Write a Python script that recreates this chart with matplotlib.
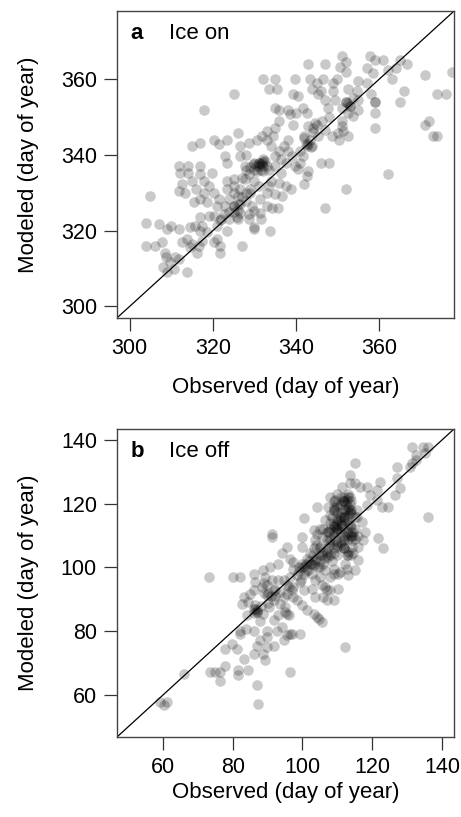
import numpy as np
import matplotlib
matplotlib.use("Agg")
import matplotlib.pyplot as plt

plt.rcParams['font.family'] = ['Liberation Sans', 'DejaVu Sans']

# ---- panel a: ice on (observed, modeled day of year) ----
on_obs = [351, 352, 352, 357.8, 359, 361, 362, 364, 366.8, 365, 371, 377.5, 357, 358.6, 363,
          355, 366, 365, 374, 376, 371, 372, 373, 374, 359, 359, 359, 362, 352, 347, 346, 348,
          325, 318, 332, 335, 333.4, 335.4, 339.8, 343, 347, 343.4, 345, 346.6, 349, 349, 349.8,
          343.8, 345.4, 339.4, 340.6, 349.4, 351, 347.8, 352.6, 353, 353.8, 355, 355, 353.8,
          352.6, 351, 351, 351.4, 350, 352.6, 350.4, 348.6, 347, 346.2, 344.6, 345.4, 343,
          343.4, 343.8, 342.6, 341.8, 341, 339.8, 340.6, 342.6, 343, 342, 339, 338, 337, 335.9,
          338, 339.4, 338.6, 340, 341.8, 342.6, 335, 336, 338, 336, 334.9, 333, 334.5, 331.8,
          333, 334, 330.6, 328.6, 326, 326.6, 323.4, 320.2, 321.4, 315, 317, 326.6, 328, 323,
          323.4, 329.8, 331, 331.8, 332, 333, 332, 330.6, 329, 328.6, 327.8, 334.9, 336.4,
          337.6, 335, 336.4, 334, 336, 337.6, 338.8, 336.6, 335, 333, 333.4, 331, 329.8, 327.8,
          325, 323.4, 323.4, 325, 325, 326.6, 328, 329, 326, 324, 323, 325, 326.6, 328, 329.4,
          331.4, 333, 334.2, 335.7, 331.4, 330, 328.6, 326.6, 325.8, 324, 322.6, 321, 321.4,
          320.2, 319, 317.8, 316, 315, 314, 312.2, 311.8, 314, 317, 319.8, 317, 318, 317, 318.6,
          315.4, 313.4, 311.8, 312.6, 305, 320.2, 319, 317, 317.4, 315.8, 314.6, 317, 318.6,
          321, 321.8, 323.4, 326, 328.8, 331.5, 330, 330, 333.8, 321, 321.8, 321.8, 320.2,
          317.4, 316.6, 316.2, 314.6, 315, 313.8, 312.6, 312, 310, 309, 307, 304, 304, 306,
          307.8, 308.6, 308.8, 309.8, 311, 308, 309, 313.8, 310.6, 311.8, 327, 350.6, 346,
          347, 357, 352.6, 354.6, 331.5, 332, 331.2, 342.5, 343.5, 326, 325,
          330.5, 332.5, 330, 344, 342, 341, 325, 326, 327, 324, 322, 329, 333.5, 352, 348,
          331, 332, 330, 331.5, 343, 344, 342, 345, 352, 353, 358, 359, 328, 327]
on_mod = [366, 364.6, 362, 366, 365, 365, 362.5, 363, 364, 365, 361, 362, 363, 361.7, 360,
          359.6, 357, 354, 356, 356, 348, 349, 345, 345, 354, 351, 347, 335, 331, 326, 338, 338,
          356, 352, 360, 360, 357.5, 357.5, 360, 364, 364, 360, 359, 360, 359, 357, 360,
          357.5, 356, 356, 355.6, 354.6, 352.4, 352.4, 353.7, 353, 355, 354.6, 352, 350.2,
          351, 349, 347.6, 346.3, 345.8, 345, 344, 345, 346.7, 348.9, 348.5, 345, 347.6,
          344, 342.3, 342.3, 339.7, 338, 337, 336.2, 334.5, 335.8, 332.3, 339.7, 341, 342.3, 341,
          344, 348, 350.7, 351, 352.4, 351, 352.4, 352, 352, 349, 347, 346.3, 345, 345,
          344, 342.3, 344, 343.2, 345.8, 342.3, 344, 344, 342.8, 342.3, 343.2, 339.7, 340, 339.7,
          338, 338, 337, 338, 339, 337, 335.8, 335.8, 336.7, 335, 337, 339.7, 338.8,
          338, 337, 335.3, 333, 332.7, 331.8, 331, 329.2, 329.7, 330, 331.8, 331.8, 333, 333.6,
          333.6, 333, 331, 331.8, 330, 331, 330, 331, 329.2, 328.3, 326.6, 326.6, 327, 327.9, 326.6,
          328.3, 326.6, 326, 326, 324.8, 325.3, 324.4, 324.8, 323.5, 323, 324.4, 326.6, 328.3,
          330, 331.8, 330, 331, 333.2, 335.3, 335.3, 337, 337, 337, 335.3, 335, 333, 328.3, 327.5,
          327.5, 330, 330.5, 332.3, 329.2, 324, 324, 323.5, 321.3, 321.3, 321, 320, 319.6,
          321.3, 322.7, 320, 323, 323, 323, 320.5, 321, 320, 317.8, 316, 314, 317,
          317.4, 316, 314, 315.7, 316.6, 317.8, 317, 320.5, 321.3, 320.5, 321.8, 322, 316, 316,
          317, 314, 313, 311.7, 313, 310.4, 309, 309, 310, 312.6, 316, 363.3, 357,
          354.6, 359, 357.5, 357, 337.5, 338.3, 337.8, 343, 342.2, 325.5, 326.5,
          337, 338.5, 336, 346, 344.5, 341, 325, 327, 329, 325, 323, 330, 336, 354, 350,
          338, 337, 337.5, 336, 343, 347, 345, 348, 354, 353, 356, 354, 336, 334]

# ---- panel b: ice off ----
off_obs = [131.3, 132.7, 134.7, 136.1, 135.2, 131.3, 130.8, 127, 132.7, 115.1, 136.1, 127, 128,
           126.5, 122.2, 121.3, 124.6, 122.8, 121.3, 119.4, 118.4, 121.8, 123, 117, 118, 117.5,
           116, 116, 115.1, 113.2, 112.2, 110.3, 108.9, 107, 106.5, 112.2, 113.7, 113.7, 115.1,
           116.5, 118.4, 111.3, 109.9, 111.8, 113.7, 112.8, 109.4, 107.4, 104.1, 108.9, 111.8,
           113.7, 115.6, 110.8, 113.2, 115.6, 107.9, 106.5, 108.9, 111.3, 113.7, 114.6, 112.8,
           109.9, 107.4, 105.1, 104.1, 105.5, 103.6, 107, 109.4, 111.8, 114.2, 114.2, 111.8,
           109.9, 107.4, 105.1, 103.2, 102.2, 104.6, 107.4, 108.9, 112.8, 114.6, 100.3, 103.2,
           99.8, 99.8, 101.2, 99.8, 98.9, 97.4, 100.3, 102.2, 103.6, 103.2, 101.7, 105.1, 106.5,
           108.9, 108.9, 110.8, 112.8, 107.9, 105.1, 102.7, 103.6, 105.5, 102.7, 103.6, 106,
           107.9, 110.3, 91.2, 91.2, 95.5, 94.1, 96.5, 97.4, 93.1, 90.7, 88.8, 89.3, 91.2, 93.1,
           94.6, 96.5, 98.4, 95.5, 97.4, 99.3, 100.3, 97.4, 95.5, 93.6, 91.7, 89.8, 88.3, 86.4,
           86, 86, 85, 83.1, 82.6, 84.5, 86.4, 86.9, 88.8, 90.3, 91.7, 93.6, 95, 95.5, 93.1,
           91.7, 92.6, 94.1, 96.5, 99.3, 98.4, 99.8, 101.2, 103.2, 104.6, 105.5, 104.1, 107,
           80.2, 82.2, 73.3, 94.6, 89.8, 86, 84.1, 87.8, 86, 83.7, 82.2, 82.2, 89.8, 89.8, 87.8,
           86.9, 89.8, 88.8, 89.3, 91.7, 94.6, 95.5, 86, 83.1, 81.1, 79.7, 77.8, 77.8, 76.4, 75,
           73.5, 76.4, 81.6, 81.6, 84.5, 86.9, 87.3, 96.3, 65.9, 59.2, 61.1, 60.2,
           110, 111, 112, 113, 109, 108, 110.5, 112.5, 111.5, 113.5, 109.5, 107.5, 114.5, 112,
           110, 108.5, 106, 104.5, 102.5, 101, 100.5, 99.5, 97, 96, 92, 90, 89, 87, 86.5,
           108, 109, 110, 111, 112, 113, 114, 115, 109, 110, 111, 112, 113, 114, 110, 111,
           112, 113, 108, 109, 110, 111, 112, 113, 114, 106, 107, 108, 104, 105, 106, 107,
           103, 104, 105, 102, 103, 101, 100, 99, 112.5, 113.5, 111, 110, 109, 114, 108.5,
           107.5, 106.5, 105.5,
           109, 110, 111, 112, 113, 114, 111, 112, 113, 110, 109, 108, 112, 113, 114, 115,
           111, 110, 109, 112, 113, 114, 107, 108, 116, 115, 114, 113,
           86, 87, 88, 90, 91, 92, 89, 95, 96, 97]
off_mod = [137.9, 135.3, 137.9, 137.9, 135.8, 132.7, 131.6, 131.6, 133.7, 132.9, 115.9, 128,
           124.8, 122.7, 126.9, 124.3, 119, 119, 121.1, 122.7, 119.6, 109.1, 106.1, 114.3,
           111.2, 108.6, 106.5, 102.3, 99.1, 97.5, 101, 93.4, 89.7, 92.8, 93.9, 75, 129, 126.4,
           126.4, 125.3, 125.3, 125.3, 123.2, 122.2, 122.2, 121.1, 121.1, 119, 119, 119, 118,
           118, 118, 115.9, 116.4, 115.9, 116.4, 114.8, 113.8, 113.3, 113.3, 111.2, 110.6,
           111.2, 111.2, 112.2, 110.6, 109.6, 108.6, 108.6, 108.6, 108.6, 108.6, 106.5, 106,
           106.5, 106, 106.5, 106, 104.4, 103.8, 103.3, 104.4, 103.8, 104.4, 115.4, 111.7,
           109.6, 106.5, 102.8, 101.2, 100.2, 99.6, 100.2, 101.2, 102.3, 100.7, 99.1, 100.2, 99.1,
           99.6, 98.1, 98.6, 99.6, 97, 97, 98.1, 96, 94.4, 93.4, 90.7, 90.7,
           92.8, 98.1, 109.6, 110.6, 106.5, 104.4, 102.8, 101.8, 101.2, 100.2, 99.1, 97, 96, 96,
           96, 97, 97.5, 94.4, 93.9, 95.4, 92.8, 90.7, 91.8, 92.3, 92.8, 94.4, 93.9, 95.4,
           98.1, 92.8, 91.8, 90.7, 88.6, 89.2, 88.1, 86.5, 85.5, 87.6, 89.7, 88.6, 87.6, 85.5, 85,
           83.4, 80.2, 81.3, 79.2, 79.2, 89.7, 88.1, 86.5, 85.5, 83.9, 82.9, 84.4, 89.7,
           97, 97, 97, 90.7, 91.3, 85.8, 85.2, 83.1, 80.2, 80.7, 79.2, 80.2, 80.2, 78.1, 77.1,
           75.5, 75, 72.9, 70.8, 75.5, 77.1, 78.7, 72.9, 71.3, 74.5, 76.1, 74.5, 69.2, 67.1, 67.1,
           67.1, 64.5, 67.7, 66.1, 67.7, 63, 57.2, 67.1, 66.6, 57.9, 57.9, 56.9,
           112, 114, 116, 118, 110, 107, 115, 120, 121, 117, 113, 111, 110, 109,
           104, 102, 101, 100, 101, 99, 98, 96, 93, 94, 91, 89, 92, 86, 87,
           122, 121, 120, 122, 121, 119, 117, 116, 118, 117, 116, 115, 114, 113, 112, 111,
           110, 109, 114, 113, 108, 107, 106, 105, 110, 112, 111, 109, 107, 106, 105, 104,
           104, 103, 102, 102, 101, 101, 100, 99, 118, 120, 113, 115, 111, 111, 116,
           108, 103, 104,
           118, 119, 120, 121, 122, 121, 117, 116, 115, 114, 113, 112, 112, 111, 110, 109,
           108, 107, 106, 106, 104, 104, 105, 104, 110, 112, 118, 123,
           87, 86, 88, 92, 91, 93, 95, 86, 85, 79]

fig = plt.figure(figsize=(4.61, 8.17), dpi=100)
ax1 = fig.add_axes([0.254, 0.611, 0.731, 0.3755])
ax2 = fig.add_axes([0.254, 0.098, 0.731, 0.377])

panels = [(ax1, on_obs, on_mod, 'a', 'Ice on', (297, 378), [300, 320, 340, 360], [300, 320, 340, 360], 13),
          (ax2, off_obs, off_mod, 'b', 'Ice off', (46.8, 143.5), [60, 80, 100, 120, 140], [60, 80, 100, 120, 140], 3)]

for ax, xo, ym, letter, title, lim, xt, yt, xpad in panels:
    ax.scatter(xo, ym, s=58, color='black', alpha=0.21, linewidths=0)
    ax.plot(lim, lim, color='black', lw=0.9)
    ax.set_xlim(lim)
    ax.set_ylim(lim)
    ax.set_xticks(xt)
    ax.set_yticks(yt)
    ax.tick_params(labelsize=15.5, length=9.5, width=0.9, color='#333333', pad=5)
    for sp in ax.spines.values():
        sp.set_color('#444444')
        sp.set_linewidth(1.0)
    ax.set_xlabel('Observed (day of year)', fontsize=16, labelpad=xpad)
    ax.set_ylabel('Modeled (day of year)', fontsize=16, labelpad=16)
    ax.text(0.04, 0.96, letter, transform=ax.transAxes, fontsize=16, fontweight='bold', va='top')
    ax.text(0.155, 0.96, title, transform=ax.transAxes, fontsize=16, va='top')

plt.savefig('out.png', dpi=100)
